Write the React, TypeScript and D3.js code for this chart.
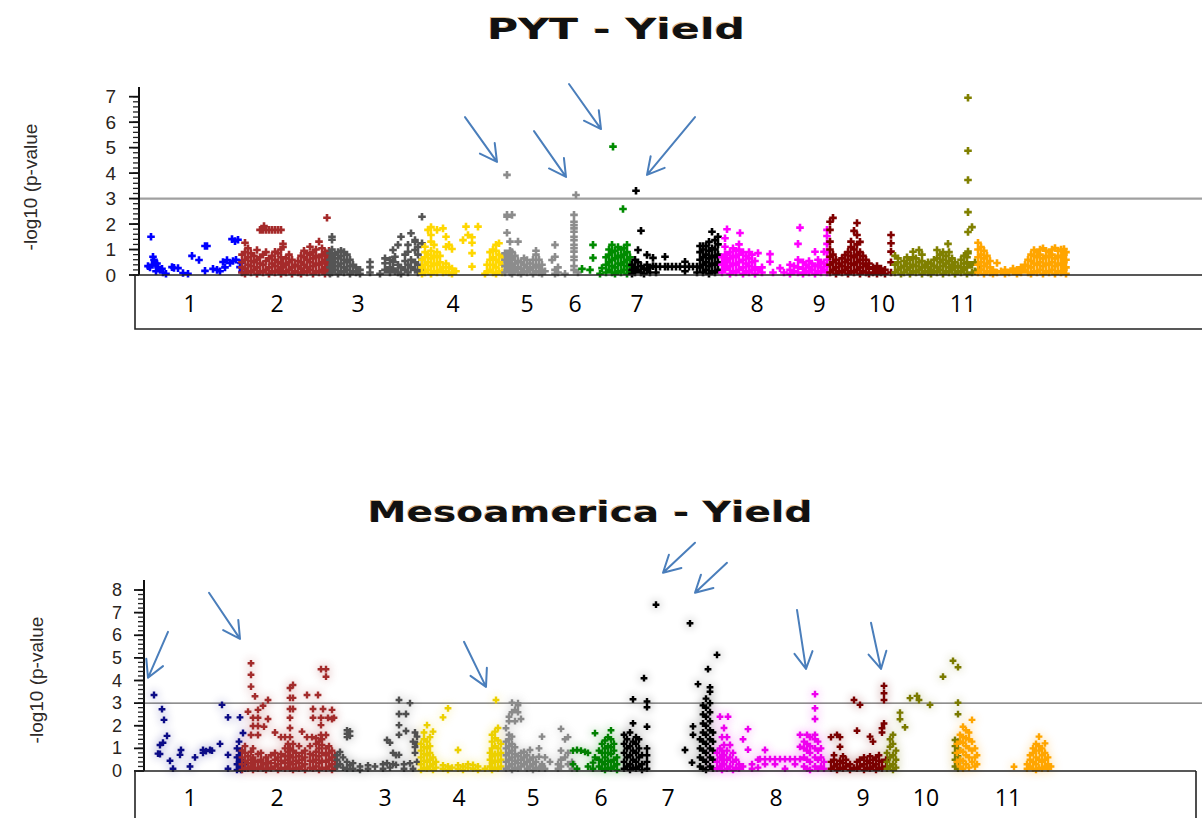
import React from "react";
import * as d3 from "d3";

// Each column is a marker position (cumulative genome position) and the
// -log10(p) values of the markers found there.
type Column = [number, number[]];
type Arrow = [number, number, number, number];

const chromosomes = ["1", "2", "3", "4", "5", "6", "7", "8", "9", "10", "11"];

const pytColors = ["#0000ff", "#a52a2a", "#555555", "#ffd700", "#8c8c8c", "#008b00", "#000000", "#ff00ff", "#800000", "#808000", "#ffa500"];
const mesoColors = ["#0c0c86", "#a32c2c", "#505050", "#ecd000", "#8a8a8a", "#008000", "#000000", "#ee00ee", "#7a0000", "#7a7a00", "#ffa500"];

const pytLabelPos = [50, 137, 218, 313, 387, 435, 497, 617, 679, 742, 823];
const mesoLabelPos = [50, 137, 245, 319, 393, 461, 528, 636, 723, 786, 868];

const threshold = 3;
const pytTicks = [0, 1, 2, 3, 4, 5, 6, 7];
const mesoTicks = [0, 1, 2, 3, 4, 5, 6, 7, 8];

// [tail position, tail value, head position, head value]
const pytArrows: Arrow[] = [
  [325, 6.2, 357, 4.44],
  [394, 5.65, 426, 3.85],
  [429, 7.5, 461, 5.73],
  [555, 6.2, 507, 3.93],
];
const mesoArrows: Arrow[] = [
  [28, 6.15, 8, 4.12],
  [69, 7.88, 100, 5.84],
  [324, 5.71, 346, 3.72],
  [555, 10.09, 523, 8.76],
  [587, 9.2, 555, 7.88],
  [657, 7.12, 666, 4.51],
  [731, 6.55, 741, 4.51],
];

// ---------- PYT ----------
const pytChr1: Column[] = [
  [8, [0.35]], [10, [0.3]], [11, [1.5]], [12, [0.4]], [13, [0.72]], [14, [0.6]], [15, [0.47]], [16, [0.15]],
  [17, [0.45]], [18, [0.31]], [20, [0.2]], [22, [0.24]], [23, [0.1]], [26, [0.05]], [32, [0.31]], [34, [0.28]],
  [38, [0.27]], [43, [0.08]], [48, [0.05]], [52, [0.75]], [59, [0.59]], [65, [1.14, 0.16]], [67, [1.14]],
  [73, [0.24]], [77, [0.2]], [80, [0.15]], [83, [0.51]], [85, [0.3]], [87, [0.59]], [90, [0.47]], [92, [1.41]],
  [93, [0.55]], [95, [1.33]], [96, [0.6]], [98, [1.38]], [100, [0.31]], [101, [0.47]], [102, [0.12]],
];
const pytChr2: Column[] = [
  [102, [0.1, 0.3, 0.5, 0.8]], [105, [0.05, 0.25, 0.6, 0.9, 1.27]], [108, [0.15, 0.4, 0.7, 1.05]],
  [111, [0.1, 0.35, 0.55, 0.85]], [114, [0.2, 0.5, 0.75]], [117, [0.05, 0.3, 0.6, 0.98]],
  [120, [0.15, 0.45, 0.7, 1.77]], [122, [1.77]], [124, [1.92]], [123, [0.1, 0.4, 0.8, 1.77]], [126, [0.2, 0.55, 0.9, 1.77]],
  [129, [0.05, 0.3, 0.65, 1.77]], [132, [0.15, 0.45, 0.75, 1.77]], [135, [0.1, 0.35, 0.6, 0.91, 1.77]],
  [138, [0.2, 0.5, 0.85, 1.77]], [141, [0.05, 0.3, 0.7, 1.0, 1.77]], [143, [0.15, 0.45, 1.1, 1.22]],
  [146, [0.1, 0.4, 0.65]], [149, [0.2, 0.5, 0.8]], [152, [0.05, 0.3, 0.6]], [155, [0.15, 0.4]],
  [158, [0.1, 0.35, 0.55]], [161, [0.05, 0.25, 0.5, 0.75]], [164, [0.15, 0.4, 0.7, 0.95]],
  [167, [0.1, 0.3, 0.6, 0.85]], [170, [0.2, 0.5, 0.8, 1.11]], [173, [0.05, 0.35, 0.65, 0.9]],
  [176, [0.15, 0.45, 0.75, 1.0]], [179, [0.1, 0.4, 0.7, 1.31]], [182, [0.2, 0.5, 0.8, 1.05]],
  [185, [0.05, 0.3, 0.6, 0.9]], [187, [0.15, 0.45, 0.75, 2.25]], [189, [0.1, 0.35, 0.6, 0.95]],
];
const pytChr3: Column[] = [
  [190, [0.05, 0.3, 0.6, 0.85]], [192, [0.1, 0.4, 0.7, 1.0, 1.38, 1.5]], [195, [0.2, 0.5, 0.8]],
  [198, [0.05, 0.35, 0.65, 0.9]], [201, [0.15, 0.45, 0.75, 0.95]], [204, [0.1, 0.3, 0.6, 0.9]],
  [207, [0.2, 0.5, 0.8]], [210, [0.05, 0.35, 0.6]], [213, [0.15, 0.4]], [216, [0.1, 0.3]], [220, [0.05, 0.2]],
  [230, [0.1, 0.31, 0.51]], [240, [0.05]], [245, [0.2, 0.46, 0.65]], [250, [0.1, 0.3, 0.59]],
  [253, [0.25, 0.52, 0.98]], [255, [0.15, 0.72]], [258, [0.1, 0.4, 1.18]], [261, [0.05, 0.3, 1.5]],
  [265, [0.2, 0.55, 0.8]], [268, [0.1, 0.4, 0.91, 1.18]], [271, [0.3, 0.6, 1.64]],
  [275, [0.2, 0.5, 0.98, 1.31, 1.37]], [278, [0.1, 0.4, 0.8, 1.1]], [282, [0.2, 0.6, 1.24, 2.29]],
];
const pytChr4: Column[] = [
  [282, [0.05, 0.3, 0.6]], [285, [0.1, 0.4, 0.7, 0.9, 1.11]], [288, [0.2, 0.5, 0.8, 1.77]],
  [291, [0.05, 0.35, 0.65, 0.95, 1.31, 1.57, 1.88]], [294, [0.15, 0.45, 0.75, 1.18]],
  [297, [0.1, 0.4, 0.7, 0.9, 1.77]], [300, [0.2, 0.5, 0.75]], [303, [0.1, 0.3, 1.83]],
  [306, [0.15, 0.45, 1.11, 1.5]], [309, [0.1, 0.3, 1.18]], [312, [0.05, 0.25, 1.02]], [316, [0.15]],
  [323, [1.37]], [326, [1.9]], [328, [1.57]], [332, [0.33, 0.86, 1.27, 1.48]], [338, [1.9]], [345, [0.05]],
  [347, [0.13, 0.4]], [350, [0.2, 0.6, 0.9]], [353, [0.1, 0.4, 0.7, 1.0]], [356, [0.05, 0.3, 0.6, 0.95, 1.18]],
  [359, [0.15, 0.5, 0.8, 1.25]], [362, [0.1, 0.4, 0.7]],
];
const pytChr5: Column[] = [
  [365, [0.1, 0.35, 0.6, 0.85]], [367, [0.2, 0.5, 0.8, 1.66, 2.29, 2.36, 3.93]], [370, [0.1, 0.4, 0.7, 0.95, 1.31]],
  [372, [0.05, 0.3, 0.6, 0.9, 2.36]], [375, [0.2, 0.45, 0.75]], [378, [0.1, 0.3, 0.55, 1.31]],
  [381, [0.05, 0.25, 0.5]], [384, [0.15, 0.4, 0.65]], [387, [0.1, 0.3, 0.59]], [390, [0.2, 0.45]],
  [393, [0.05, 0.3, 0.6]], [396, [0.15, 0.4, 0.8, 0.95]], [399, [0.1, 0.3, 0.6]], [402, [0.05, 0.2, 0.4]],
  [405, [0.15]], [412, [0.59]], [415, [0.05, 0.2, 0.72, 1.18]], [418, [0.1, 0.3]], [425, [0.05]],
  [434, [0.2, 0.35, 0.59, 0.72, 0.92, 1.05, 1.18, 1.37, 1.5, 1.7, 1.83, 1.96, 2.09, 2.36]], [436, [3.14]], [438, [0.1]],
];
const pytChr6: Column[] = [
  [442, [0.24]], [450, [0.2]], [453, [0.67, 1.18]], [460, [0.05]], [462, [0.27]], [466, [0.1, 0.4, 0.7]],
  [469, [0.2, 0.5, 0.8, 1.0]], [472, [0.1, 0.35, 0.6, 0.9, 1.18]], [473, [5.04]], [475, [0.05, 0.3, 0.65, 0.95]],
  [478, [0.15, 0.45, 0.75, 1.1]], [481, [0.1, 0.4, 0.7, 1.0]], [483, [2.59]], [484, [0.2, 0.5, 0.8, 1.05]],
  [487, [0.05, 0.35, 0.6, 0.9, 1.18]], [490, [0.15, 0.4, 0.7]],
];
const pytChr7: Column[] = [
  [492, [0.05, 0.2, 0.4]], [495, [0.1, 0.3, 0.6]], [496, [3.31]], [498, [0.2, 0.5, 0.98]], [501, [0.1, 0.35, 1.74]],
  [504, [0.05, 0.25]], [507, [0.2, 0.4, 0.79]], [510, [0.1, 0.3]], [513, [0.35, 0.67]], [516, [0.1, 0.33]],
  [520, [0.33]], [525, [0.33, 0.72]], [528, [0.33]], [532, [0.33]], [536, [0.33]], [540, [0.33]],
  [545, [0.15, 0.33, 0.52]], [549, [0.33]], [553, [0.33]], [557, [0.1, 0.33]], [560, [0.3, 0.6, 0.9, 1.14]],
  [563, [0.1, 0.4, 0.7, 1.0, 1.14]], [566, [0.2, 0.5, 0.8, 1.14]], [569, [0.05, 0.35, 0.65, 0.95, 1.3]],
  [572, [0.15, 0.45, 0.75, 1.05, 1.7]], [575, [0.1, 0.4, 0.7, 1.0, 1.37]], [578, [0.2, 0.5, 0.8, 1.2, 1.5]],
];
const pytChr8: Column[] = [
  [582, [0.1, 0.4, 0.7]], [585, [0.2, 0.5, 0.8, 1.11, 1.44]], [587, [0.3, 0.6, 1.8]], [590, [0.05, 0.35, 0.65, 0.9]],
  [593, [0.15, 0.45, 0.75, 1.05]], [596, [0.1, 0.4, 0.7, 0.95]], [599, [0.2, 0.5, 0.8, 1.0, 1.2]], [600, [1.65]],
  [603, [0.05, 0.3, 0.6, 0.9]], [606, [0.15, 0.45, 0.75]], [609, [0.1, 0.35, 0.65, 0.9]], [612, [0.2, 0.5, 0.8]],
  [615, [0.05, 0.3, 0.55]], [618, [0.2, 0.86]], [622, [0.1, 0.3]], [630, [0.52, 0.82]], [633, [0.1]], [640, [0.27]],
  [644, [0.1]], [650, [0.05, 0.2, 0.4]], [654, [0.15, 0.35]], [658, [0.1, 0.3, 0.6, 1.22]], [660, [1.86]],
  [663, [0.05, 0.25, 0.5]], [666, [0.15, 0.4]], [669, [0.1, 0.3, 0.55]], [672, [0.2, 0.45]], [675, [0.05, 0.35, 0.91]],
  [678, [0.15, 0.4, 0.6]], [681, [0.1, 0.3, 0.5]], [684, [0.2, 0.45, 0.91]], [687, [0.1, 0.35, 0.6, 0.9, 1.22, 1.53, 1.77]],
];
const pytChr9: Column[] = [
  [690, [0.1, 0.4, 0.72, 1.0, 1.31, 1.77, 2.09]], [693, [0.2, 0.5, 0.8, 2.24]], [696, [0.05, 0.3, 0.6]],
  [699, [0.15, 0.45]], [702, [0.1, 0.35, 0.65]], [705, [0.2, 0.5, 0.78]], [708, [0.05, 0.3, 0.6, 0.9]],
  [711, [0.15, 0.45, 0.75, 1.1, 1.31]], [714, [0.1, 0.4, 0.7, 1.0, 1.73]], [717, [0.2, 0.5, 0.8, 1.2, 1.57, 2.04]],
  [720, [0.05, 0.3, 0.6, 0.9, 1.3]], [723, [0.15, 0.45, 0.75]], [726, [0.1, 0.35, 0.6]], [729, [0.05, 0.25, 0.45]],
  [733, [0.1, 0.3]], [737, [0.05, 0.2, 0.35]], [741, [0.1, 0.25]], [745, [0.05, 0.2]], [751, [0.1, 0.5, 0.92, 1.25, 1.57]],
];
const pytChr10: Column[] = [
  [755, [0.1, 0.4, 0.75]], [758, [0.2, 0.5, 0.65]], [761, [0.05, 0.3]], [764, [0.1, 0.35, 0.55]], [767, [0.2, 0.45, 0.7]],
  [770, [0.05, 0.3, 0.6]], [773, [0.15, 0.4, 0.7, 0.91]], [776, [0.1, 0.35, 0.65]], [779, [0.2, 0.5, 0.98]],
  [782, [0.05, 0.3, 0.55, 0.8]], [785, [0.15, 0.4]], [788, [0.1, 0.3, 0.5]], [791, [0.05, 0.2, 0.45]],
  [794, [0.15, 0.35, 0.6]], [797, [0.1, 0.3, 0.65, 0.98]], [800, [0.2, 0.5, 0.8]], [803, [0.05, 0.35, 0.6, 0.9]],
  [806, [0.15, 0.45, 0.75]], [808, [1.22]], [809, [0.1, 0.3, 0.55, 0.9]], [812, [0.2, 0.4, 0.65]], [815, [0.05, 0.3, 0.5]],
  [818, [0.15, 0.35]], [821, [0.1, 0.3, 0.6]], [824, [0.2, 0.45, 0.75]], [827, [0.05, 0.3, 0.5, 0.7]],
  [828, [0.85, 0.92, 1.69, 2.47, 3.73, 4.88, 6.96]], [832, [0.1, 0.4, 1.88]], [835, [0.15, 0.5]], [839, [0.2]],
];
const pytChr11: Column[] = [
  [838, [0.1, 0.4, 0.7, 1.0, 1.27]], [841, [0.2, 0.5, 0.8, 1.1]], [844, [0.05, 0.35, 0.65, 0.95]], [847, [0.15, 0.45, 0.75]],
  [850, [0.1, 0.3, 0.55]], [853, [0.05, 0.2]], [857, [0.1, 0.47]], [861, [0.15]], [865, [0.05, 0.2]], [869, [0.1]],
  [873, [0.15, 0.25]], [877, [0.05, 0.2]], [881, [0.1, 0.3]], [885, [0.2, 0.4]], [888, [0.1, 0.35, 0.6]],
  [891, [0.05, 0.3, 0.55, 0.8]], [894, [0.15, 0.45, 0.75, 0.98]], [897, [0.1, 0.4, 0.7, 0.9]], [900, [0.2, 0.5, 0.8, 1.0]],
  [903, [0.05, 0.35, 0.65, 1.05]], [906, [0.15, 0.45, 0.75, 0.95]], [909, [0.1, 0.4, 0.7, 0.9]], [912, [0.2, 0.5, 0.8, 1.0]],
  [915, [0.05, 0.35, 0.65, 1.06]], [918, [0.15, 0.45, 0.75, 0.95]], [921, [0.1, 0.4, 0.7, 1.0]], [924, [0.2, 0.5, 0.8, 1.02]],
  [926, [0.05, 0.3, 0.6, 0.9]],
];

// ---------- Mesoamerica ----------
const mesoChr1: Column[] = [
  [14, [3.36]], [18, [0.77]], [20, [0.75, 1.15]], [22, [2.73]], [23, [1.25]], [24, [2.26]], [27, [1.55]], [30, [0.45]],
  [33, [0.1]], [40, [0.71]], [41, [0.93]], [50, [0.2]], [55, [0.6]], [63, [0.8, 0.93]], [66, [0.88]], [70, [0.93]],
  [72, [0.9]], [80, [1.2]], [82, [2.92]], [88, [0.1, 0.71, 2.37]], [97, [0.05, 0.3, 0.6, 1.0]],
  [99, [0.1, 0.2, 0.4, 0.7, 1.3]], [100, [2.37]], [101, [0.05, 0.25, 0.5, 0.9]], [103, [0.15, 0.4, 1.68]], [105, [0.1, 0.3]],
];
const mesoChr2: Column[] = [
  [102, [0.05, 0.3, 0.6, 0.9]], [105, [0.15, 0.45, 0.8, 1.1]], [108, [0.1, 0.35, 0.65, 2.62]],
  [111, [0.2, 0.5, 0.85, 1.59, 3.73, 4.25, 4.76]], [113, [0.05, 0.3, 0.6, 1.0, 1.99, 2.35]], [115, [0.15, 0.45, 3.3]],
  [118, [0.1, 0.4, 0.75, 1.59, 1.99, 2.35, 2.7]], [121, [0.2, 0.5, 0.8]], [123, [0.1, 0.35, 2.88]], [124, [1.96]],
  [126, [0.05, 0.3, 0.6]], [128, [0.15, 0.4, 2.3, 3.14]], [131, [0.1, 0.35, 0.7]], [135, [0.2, 0.5, 0.8, 1.7]],
  [138, [0.05, 0.3, 0.6]], [141, [0.15, 0.45, 0.75, 1.5]], [145, [0.1, 0.35, 0.65, 1.0, 1.5]], [148, [0.2, 0.5, 0.85, 1.2]],
  [150, [0.1, 0.4, 0.7, 1.0, 1.5, 1.9, 2.35, 2.74, 3.23, 3.67]], [153, [0.05, 0.3, 0.6, 0.9, 1.2, 2.74, 3.23, 3.8]],
  [156, [0.15, 0.45, 0.8]], [159, [0.1, 0.35, 0.65, 1.1]], [162, [0.2, 0.5, 0.8, 1.74]], [165, [0.05, 0.3, 0.6, 0.9]],
  [167, [1.5, 3.36]], [170, [0.15, 0.45, 0.75, 1.1]], [172, [1.5]], [173, [0.1, 0.4, 0.7, 2.35, 2.74]],
  [176, [0.2, 0.5, 0.85, 1.2, 1.45]], [178, [3.36]], [179, [0.05, 0.35, 0.65, 1.0, 1.3]], [181, [1.59, 2.03, 2.35, 4.5]],
  [182, [0.15, 0.45, 0.8, 1.15, 1.4]], [183, [2.74]], [186, [0.1, 0.4, 0.7, 1.0, 1.59, 4.17, 4.5]], [188, [2.35]],
  [189, [0.2, 0.5, 0.8, 1.1]], [192, [0.05, 0.3, 0.6, 0.9, 2.3, 2.7]], [194, [2.35]], [195, [0.15, 0.45, 0.7]],
];
const mesoChr3: Column[] = [
  [197, [0.2, 0.5, 0.7]], [200, [0.3, 0.84]], [203, [0.15, 0.6]], [207, [0.1, 0.4, 1.5, 1.65, 1.8]], [210, [0.25, 1.55, 1.75]],
  [213, [0.1, 0.35]], [220, [0.05, 0.2]], [228, [0.1, 0.25]], [235, [0.2]], [243, [0.1, 0.3]], [247, [0.35, 1.37]],
  [250, [0.15, 1.25]], [253, [0.3, 0.8]], [256, [0.27, 0.7]], [259, [0.71, 1.6, 2.03, 2.52, 3.14]], [264, [0.1, 0.3]],
  [266, [1.77, 2.52]], [270, [0.34, 3.0]], [273, [0.1, 1.3]], [275, [0.8, 1.06, 1.7]], [277, [0.4, 1.2, 1.52]],
];
const mesoChr4: Column[] = [
  [281, [0.05, 0.3, 0.6, 0.9, 1.2]], [284, [0.15, 0.45, 0.75, 1.05, 1.4, 1.7]], [287, [0.1, 0.4, 0.7, 1.0, 1.3, 2.03]],
  [290, [0.2, 0.5, 0.8, 1.1, 1.5]], [293, [0.05, 0.3, 0.6, 1.74]], [296, [0.15, 0.4]], [303, [0.1, 0.25, 2.37]],
  [308, [0.05, 0.2, 2.77]], [312, [0.15]], [318, [0.1, 0.25, 0.93]], [323, [0.05, 0.2]], [328, [0.15, 0.3]],
  [333, [0.1, 0.27]], [338, [0.05, 0.2]], [345, [0.1]], [350, [0.2, 0.5, 0.8]], [352, [0.05, 0.35, 0.65, 1.0, 1.3, 1.6]],
  [355, [0.15, 0.45, 0.75, 1.1, 1.45, 1.74]], [356, [3.14]], [358, [0.1, 0.4, 0.7, 1.0, 1.35, 1.9]], [361, [0.2, 0.5, 0.8, 1.2]],
];
const mesoChr5: Column[] = [
  [366, [0.1, 0.4, 0.7, 1.0, 1.3, 1.89]], [369, [0.2, 0.5, 0.8, 1.1, 1.4, 1.6, 2.2, 2.4]],
  [372, [0.05, 0.3, 0.6, 0.9, 1.2, 1.52, 2.6, 3.02]], [375, [0.15, 0.45, 0.75, 1.05, 2.2, 2.7]],
  [378, [0.1, 0.35, 0.65, 2.6, 2.9, 3.0]], [381, [0.2, 0.5, 0.8, 2.3]], [384, [0.3, 0.6, 0.85]], [387, [0.1, 0.4, 0.7]],
  [390, [0.2, 0.5, 0.93]], [393, [0.05, 0.3, 0.6]], [396, [0.15, 0.4]], [399, [0.1, 0.63, 1.0]], [402, [0.2, 0.3, 1.52]],
  [405, [0.1, 0.6]], [410, [0.4]], [418, [0.1, 0.3]], [421, [0.2, 0.5, 0.9, 1.86]], [425, [0.6, 1.4]], [428, [0.3, 0.8, 1.5]],
  [432, [0.1, 0.4]],
];
const mesoChr6: Column[] = [
  [433, [0.3, 0.9]], [437, [0.1, 0.93]], [441, [0.9]], [445, [0.85]], [448, [0.2, 0.8]], [453, [0.1, 0.37]],
  [455, [0.6, 1.67]], [459, [0.2, 0.5, 0.9]], [462, [0.1, 0.4, 0.8, 1.2]], [465, [0.05, 0.3, 0.6, 1.0, 1.35]],
  [468, [0.15, 0.45, 0.8, 1.1, 1.5]], [471, [0.1, 0.4, 0.75, 1.05, 1.4, 1.8]], [474, [0.2, 0.5, 0.9, 1.2]], [477, [0.05, 0.3, 0.6]],
];
const mesoChr7: Column[] = [
  [484, [0.1, 0.4, 0.8, 1.2, 1.6]], [487, [0.2, 0.6, 1.0, 1.4]], [490, [0.05, 0.3, 0.7, 1.1, 1.7]],
  [493, [0.15, 0.5, 0.9, 1.3, 2.11, 3.17]], [496, [0.1, 0.4, 0.8, 1.2, 1.5]], [499, [0.2, 0.6, 1.0, 1.4]],
  [502, [0.05, 0.3, 0.7]], [504, [4.1]], [507, [0.1, 0.4, 0.7, 1.0, 1.96, 2.82, 3.07]], [516, [7.35]], [545, [0.93]],
  [550, [6.53]], [552, [0.37]], [553, [1.6, 1.97]], [558, [3.84]], [560, [0.2, 0.6, 1.0, 1.4]],
  [563, [0.1, 0.5, 0.9, 1.3, 1.7, 2.1, 2.5, 2.9]], [566, [0.05, 0.4, 0.8, 1.2, 1.6, 2.0, 2.4, 2.8, 3.2]], [568, [4.5]],
  [570, [0.2, 0.6, 1.0, 1.4, 1.8, 2.2, 2.6, 3.0, 3.5, 3.7]], [573, [0.1, 0.5, 0.9, 1.3, 1.7]], [577, [5.13]],
];
const mesoChr8: Column[] = [
  [577, [0.1, 0.4, 0.8]], [580, [0.2, 0.6, 1.0, 2.4]], [582, [0.05, 0.5, 0.9, 1.5]], [584, [0.3, 0.7, 1.15, 1.9]],
  [587, [0.1, 0.5, 0.9, 1.5]], [588, [2.4]], [590, [0.2, 0.6, 1.15]], [593, [0.05, 0.4, 0.8]], [596, [0.15, 0.5]],
  [599, [0.1, 0.3]], [603, [0.2, 1.4]], [608, [0.94, 1.85]], [612, [0.1, 0.3]], [618, [0.15, 0.5]], [620, [0.52]],
  [625, [0.3, 0.52, 0.93]], [630, [0.52]], [635, [0.3, 0.52]], [640, [0.52]], [645, [0.1, 0.52]], [650, [0.52]],
  [655, [0.3, 0.52]], [660, [0.52, 1.07, 1.6]], [664, [0.2, 0.6, 1.0, 1.3]], [667, [0.1, 0.5, 0.9, 1.2, 1.6]],
  [670, [0.05, 0.4, 0.8, 1.1, 1.5]], [675, [0.2, 0.6, 1.0, 1.4, 1.6, 2.3, 2.77, 3.4]], [678, [0.1, 0.5, 0.9, 1.3]],
  [681, [0.2, 0.6, 1.0]], [684, [0.1, 0.4]],
];
const mesoChr9: Column[] = [
  [691, [0.1, 0.4, 1.5]], [694, [0.2, 0.5, 0.7]], [697, [0.05, 0.3, 1.6]], [700, [0.15, 0.45, 1.07, 1.5]],
  [703, [0.1, 0.35, 0.65]], [706, [0.2, 0.5]], [710, [0.05, 0.3]], [714, [0.15, 3.14]], [717, [0.1, 0.4, 1.78]],
  [720, [0.2, 0.5, 2.92]], [724, [0.05, 0.3, 0.6]], [727, [0.15, 0.45]], [730, [0.1, 0.35, 0.65, 1.52]],
  [733, [0.2, 0.5, 1.3]], [736, [0.05, 0.3, 0.6]], [739, [0.15, 0.45, 0.7]], [742, [0.1, 0.4, 1.7, 1.89]],
  [744, [2.1, 3.14, 3.44, 3.76]], [746, [0.2, 0.5]],
];
const mesoChr10: Column[] = [
  [747, [0.1, 0.4, 0.8]], [750, [0.2, 0.6, 1.07, 1.4]], [753, [0.05, 0.3, 0.7, 1.2, 1.6]], [756, [0.15, 0.5, 0.9]],
  [760, [2.29, 2.58]], [765, [1.93]], [770, [3.22]], [777, [3.32]], [779, [3.14]], [790, [2.92]], [803, [4.17]],
  [813, [4.87]], [815, [0.2, 0.5, 0.8, 1.1, 1.37]], [818, [0.1, 0.35, 0.65, 1.0, 1.3, 2.51, 3.02, 4.59]],
];
const mesoChr11: Column[] = [
  [817, [0.4, 0.8, 1.2]], [820, [0.2, 0.5, 0.9, 1.3, 1.6]], [823, [0.1, 0.45, 0.85, 1.25, 1.5, 1.96]],
  [826, [0.3, 0.7, 1.1, 1.45, 1.8]], [829, [0.15, 0.6, 1.0, 1.4, 1.7]], [832, [0.4, 0.9, 1.3, 2.26]],
  [835, [0.2, 0.6, 1.0]], [837, [0.3, 0.7]], [874, [0.19]], [887, [0.1, 0.3]], [890, [0.2, 0.5, 0.7]],
  [893, [0.1, 0.4, 0.8, 1.0]], [896, [0.05, 0.3, 0.6, 0.9, 1.2]], [899, [0.15, 0.5, 0.9, 1.1, 1.52]],
  [902, [0.1, 0.4, 0.7, 1.0]], [905, [0.2, 0.5, 0.8, 1.22]], [908, [0.1, 0.3, 0.6]], [911, [0.2]],
];

const pytData = [pytChr1, pytChr2, pytChr3, pytChr4, pytChr5, pytChr6, pytChr7, pytChr8, pytChr9, pytChr10, pytChr11];
const mesoData = [mesoChr1, mesoChr2, mesoChr3, mesoChr4, mesoChr5, mesoChr6, mesoChr7, mesoChr8, mesoChr9, mesoChr10, mesoChr11];

const genomeSpan = 1062;
const arrowBlue = "#4a7ebb";

interface PanelSpec {
  title: string;
  titleX: number;
  titleY: number;
  titleWidth: number;
  titleSize: number;
  data: Column[][];
  colors: string[];
  ticks: number[];
  yZero: number;
  yTopPx: number;
  axisX: number;
  axisTop: number;
  tickFont: number;
  tickGap: number;
  yLabelX: number;
  yLabelY: number;
  yLabelSize: number;
  boxLeft: number;
  boxBottom: number;
  boxRight: number | null;
  labelY: number;
  labelPos: number[];
  arrows: Arrow[];
  thresholdColor: string;
  thresholdWidth: number;
  markR: number;
  markW: number;
  haze: boolean;
  id: string;
}

const plusPath = (x: number, y: number, r: number) =>
  `M${(x - r).toFixed(1)},${y.toFixed(1)}h${2 * r}M${x.toFixed(1)},${(y - r).toFixed(1)}v${2 * r}`;

function Panel({ s }: { s: PanelSpec }) {
  const maxTick = s.ticks[s.ticks.length - 1];
  const x = d3.scaleLinear().domain([0, genomeSpan]).range([140, 1202]);
  const y = d3.scaleLinear().domain([0, maxTick]).range([s.yZero, s.yTopPx]);
  const minor = d3.range(0, maxTick + 0.001, 0.2);

  const markPaths = s.data.map((cols) =>
    cols.map(([pos, vals]) => vals.map((v) => plusPath(x(pos), y(v), s.markR)).join("")).join("")
  );

  const arrowShapes = s.arrows.map(([p1, v1, p2, v2]) => {
    const x1 = x(p1), y1 = y(v1), x2 = x(p2), y2 = y(v2);
    const a = Math.atan2(y2 - y1, x2 - x1);
    const L = 19, spread = 0.5;
    const h1 = [x2 - L * Math.cos(a - spread), y2 - L * Math.sin(a - spread)];
    const h2 = [x2 - L * Math.cos(a + spread), y2 - L * Math.sin(a + spread)];
    return `M${x1},${y1}L${x2},${y2}M${h1[0]},${h1[1]}L${x2},${y2}L${h2[0]},${h2[1]}`;
  });

  const boxRight = s.boxRight ?? 1210;

  return (
    <g>
      {/* title */}
      <text
        x={s.titleX - s.titleWidth / 2 - 1}
        y={s.titleY - 1}
        textLength={s.titleWidth}
        lengthAdjust="spacingAndGlyphs"
        fontFamily="DejaVu Sans"
        fontWeight="bold"
        fontSize={s.titleSize}
        fill="#c98a3a"
        opacity={0.55}
      >
        {s.title}
      </text>
      <text
        x={s.titleX - s.titleWidth / 2}
        y={s.titleY}
        textLength={s.titleWidth}
        lengthAdjust="spacingAndGlyphs"
        fontFamily="DejaVu Sans"
        fontWeight="bold"
        fontSize={s.titleSize}
        fill="#111"
      >
        {s.title}
      </text>

      {/* y axis label */}
      <text
        transform={`translate(${s.yLabelX},${s.yLabelY}) rotate(-90)`}
        textAnchor="middle"
        dominantBaseline="central"
        fontFamily="Liberation Sans, Arial, sans-serif"
        fontSize={s.yLabelSize}
        fill="#2e2a28"
      >
        -log10 (p-value
      </text>

      {/* significance threshold */}
      <line x1={s.axisX} x2={1202} y1={y(threshold)} y2={y(threshold)} stroke={s.thresholdColor} strokeWidth={s.thresholdWidth} />

      {/* markers */}
      {s.haze && (
        <g filter={`url(#haze-${s.id})`} opacity={0.28}>
          {markPaths.map((d, i) => (
            <path key={i} d={d} stroke={s.colors[i]} strokeWidth={s.markW + 4} fill="none" />
          ))}
        </g>
      )}
      {markPaths.map((d, i) => (
        <path key={i} d={d} stroke={s.colors[i]} strokeWidth={s.markW} fill="none" />
      ))}

      {/* y axis */}
      <line x1={s.axisX} x2={s.axisX} y1={s.axisTop} y2={s.yZero} stroke="#111" strokeWidth={2} />
      {minor.map((t, i) => (
        <line key={`m${i}`} x1={s.axisX - 6} x2={s.axisX} y1={y(t)} y2={y(t)} stroke="#222" strokeWidth={1.3} />
      ))}
      {s.ticks.map((t) => (
        <g key={t}>
          <line x1={s.axisX - 10} x2={s.axisX} y1={y(t)} y2={y(t)} stroke="#111" strokeWidth={1.8} />
          <text
            x={s.axisX - s.tickGap}
            y={y(t)}
            textAnchor="end"
            dominantBaseline="central"
            fontFamily="Liberation Sans, Arial, sans-serif"
            fontSize={s.tickFont}
            fill="#2a2420"
          >
            {t}
          </text>
        </g>
      ))}

      {/* chromosome label box */}
      <path
        d={`M${boxRight},${s.yZero}H${s.boxLeft}V${s.boxBottom}${s.boxRight != null ? "" : `H${boxRight}`}`}
        fill="none"
        stroke="#222"
        strokeWidth={1.6}
      />
      {s.boxRight != null && (
        <line x1={s.boxRight} x2={s.boxRight} y1={s.yZero} y2={s.boxBottom} stroke="#222" strokeWidth={1.6} />
      )}
      {chromosomes.map((c, i) => (
        <text
          key={c}
          x={x(s.labelPos[i])}
          y={s.labelY}
          textAnchor="middle"
          fontFamily="Open Sans, Liberation Sans, sans-serif"
          fontSize={23}
          fill="#000"
        >
          {c}
        </text>
      ))}

      {/* annotation arrows */}
      {arrowShapes.map((d, i) => (
        <path key={i} d={d} stroke={arrowBlue} strokeWidth={2} fill="none" strokeLinecap="round" strokeLinejoin="round" />
      ))}
    </g>
  );
}

const pytSpec: PanelSpec = {
  id: "pyt",
  title: "PYT - Yield",
  titleX: 616,
  titleY: 39,
  titleWidth: 258,
  titleSize: 29,
  data: pytData,
  colors: pytColors,
  ticks: pytTicks,
  yZero: 275,
  yTopPx: 96.7,
  axisX: 139,
  axisTop: 87,
  tickFont: 19,
  tickGap: 23,
  yLabelX: 30,
  yLabelY: 187,
  yLabelSize: 19,
  boxLeft: 135,
  boxBottom: 329,
  boxRight: null,
  labelY: 312,
  labelPos: pytLabelPos,
  arrows: pytArrows,
  thresholdColor: "#a0a0a0",
  thresholdWidth: 2.2,
  markR: 3.8,
  markW: 2.6,
  haze: false,
};

const mesoSpec: PanelSpec = {
  id: "meso",
  title: "Mesoamerica - Yield",
  titleX: 590,
  titleY: 522,
  titleWidth: 445,
  titleSize: 28,
  data: mesoData,
  colors: mesoColors,
  ticks: mesoTicks,
  yZero: 771,
  yTopPx: 590,
  axisX: 144,
  axisTop: 580,
  tickFont: 18,
  tickGap: 22,
  yLabelX: 36,
  yLabelY: 680,
  yLabelSize: 19,
  boxLeft: 135,
  boxBottom: 840,
  boxRight: 1196,
  labelY: 806,
  labelPos: mesoLabelPos,
  arrows: mesoArrows,
  thresholdColor: "#6a6a6a",
  thresholdWidth: 1.4,
  markR: 3.4,
  markW: 2.4,
  haze: true,
};

export default function App() {
  return (
    <svg
      width={1202}
      height={818}
      viewBox="0 0 1202 818"
      style={{ position: "fixed", left: 0, top: 0, background: "#fff" }}
    >
      <defs>
        <filter id="haze-meso" x="-10%" y="-10%" width="120%" height="120%">
          <feGaussianBlur stdDeviation="5" />
        </filter>
      </defs>
      <rect width={1202} height={818} fill="#fff" />
      <Panel s={pytSpec} />
      <Panel s={mesoSpec} />
    </svg>
  );
}
